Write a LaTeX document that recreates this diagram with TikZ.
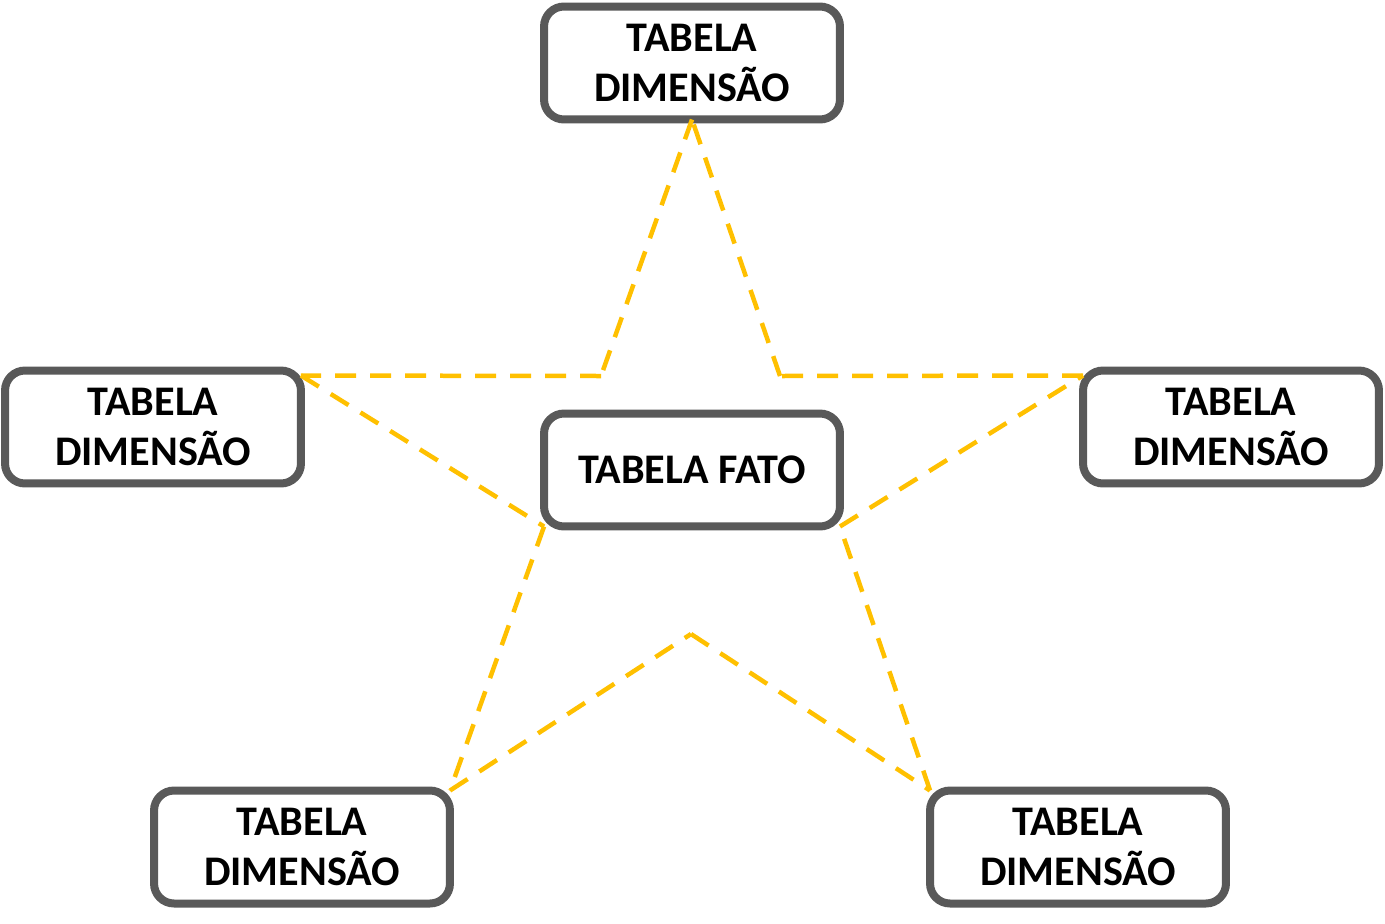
\documentclass[tikz,border=0pt]{standalone}
\usepackage{fontspec}
\setmainfont{Carlito}
\usetikzlibrary{%
    calc,
    positioning
}
\definecolor{boxgray}{HTML}{595959}
\definecolor{stargold}{HTML}{FFC000}
\tikzset{dimbox/.style = {draw=boxgray, fill=white, line width=0.16cm,
        rounded corners=0.4cm, minimum width=5.92cm, minimum height=2.26cm,
        inner sep=0pt, outer sep=0pt, align=center,
        font=\bfseries\fontsize{24}{28}\selectfont}}
\tikzset{starline/.style = {draw=stargold, line width=0.09cm,
        dash pattern=on 0.42cm off 0.28cm}}

\begin{document}
\begin{tikzpicture}[x=0.02cm, y=-0.02cm]
    \useasboundingbox (0,0) rectangle (1385,923);
    \node[dimbox] (dimT) at (692,63) {TABELA\\DIMENSÃO};
    \node[dimbox] (dimL) at (153,427) {TABELA\\DIMENSÃO};
    \node[dimbox] (dimR) at (1231,427) {TABELA\\DIMENSÃO};
    \node[dimbox] (fato) at (692,470) {TABELA FATO};
    \node[dimbox] (dimBL) at (302,847) {TABELA\\DIMENSÃO};
    \node[dimbox] (dimBR) at (1078,847) {TABELA\\DIMENSÃO};

    % corners of the star
    \coordinate (in1) at (601,376);
    \coordinate (in2) at (780,376);
    \coordinate (in3) at (691,634);
    \coordinate (cL) at ([yshift=-0.1cm]dimL.north east);
    \coordinate (cR) at ([yshift=-0.1cm]dimR.north west);

    \foreach \x [remember=\x as \lastx (initially dimT.south)] in {%
        in1, cL, fato.south west, dimBL.north east, in3,
        dimBR.north west, fato.south east, cR, in2, dimT.south%
        }
    \draw[starline] (\lastx) -- (\x);
\end{tikzpicture}
\end{document}
